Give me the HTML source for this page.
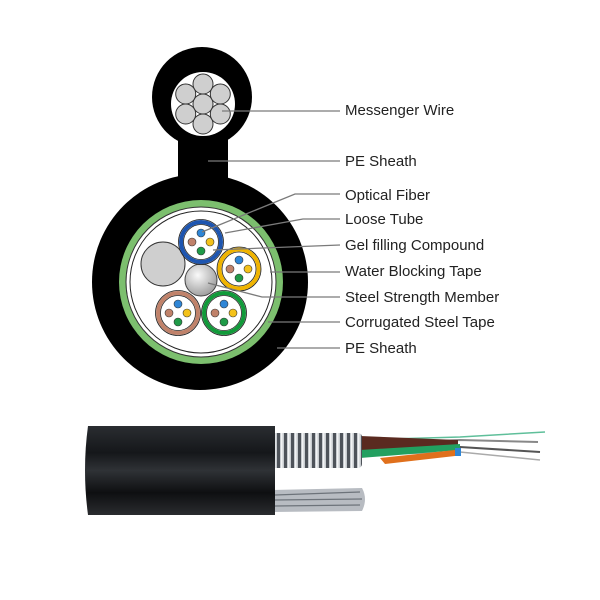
<!DOCTYPE html>
<html><head><meta charset="utf-8"><style>
html,body{margin:0;padding:0;background:#fff;}
svg{display:block}
text{font-family:"Liberation Sans",sans-serif;font-size:15px;fill:#222;}
</style></head><body>
<svg width="600" height="600" viewBox="0 0 600 600" xmlns="http://www.w3.org/2000/svg">
<defs>
<radialGradient id="steel" cx="0.4" cy="0.35" r="0.7"><stop offset="0" stop-color="#fafafa"/><stop offset="1" stop-color="#9a9a9a"/></radialGradient>
<linearGradient id="jacket" x1="0" y1="0" x2="0" y2="1">
<stop offset="0" stop-color="#2a2d31"/><stop offset="0.3" stop-color="#15171a"/><stop offset="0.5" stop-color="#2f3236"/><stop offset="0.75" stop-color="#0e0f11"/><stop offset="1" stop-color="#2a2c2f"/></linearGradient>
<pattern id="coil" width="7" height="40" patternUnits="userSpaceOnUse"><rect width="7" height="40" fill="#c8ccd0"/><rect x="4" width="3" height="40" fill="#4e535a"/><rect x="1" width="1.5" height="40" fill="#f2f3f5"/></pattern>
</defs>
<circle cx="202" cy="97" r="50" fill="#000"/>
<rect x="178" y="130" width="50" height="60" fill="#000"/>
<circle cx="203" cy="104" r="32" fill="#fff"/>
<g fill="#cfcfcf" stroke="#333" stroke-width="1">
<circle cx="203" cy="104" r="10"/>
<circle cx="203" cy="84" r="10"/>
<circle cx="203" cy="124" r="10"/>
<circle cx="185.7" cy="94" r="10"/>
<circle cx="220.3" cy="94" r="10"/>
<circle cx="185.7" cy="114" r="10"/>
<circle cx="220.3" cy="114" r="10"/>
</g>
<circle cx="200" cy="282" r="108" fill="#000"/>
<circle cx="201" cy="282" r="82" fill="#7cbf6e"/>
<circle cx="201" cy="282" r="75" fill="#fff" stroke="#333" stroke-width="1"/>
<circle cx="201" cy="282" r="71" fill="#fff" stroke="#222" stroke-width="1"/>
<circle cx="163" cy="264" r="22" fill="#cfcfcf" stroke="#333" stroke-width="1"/>
<circle cx="201" cy="280" r="16" fill="url(#steel)" stroke="#444" stroke-width="1"/>
<g stroke-width="4" fill="#fff">
<circle cx="201" cy="242" r="20" stroke="#1d55b0"/>
<circle cx="239" cy="269" r="19.5" stroke="#f0b400"/>
<circle cx="178" cy="313" r="20" stroke="#c0826a"/>
<circle cx="224" cy="313" r="20" stroke="#119a3a"/>
</g>
<g fill="none" stroke="#222" stroke-width="0.8">
<circle cx="201" cy="242" r="22.5"/><circle cx="201" cy="242" r="17.5"/>
<circle cx="239" cy="269" r="22"/><circle cx="239" cy="269" r="17"/>
<circle cx="178" cy="313" r="22.5"/><circle cx="178" cy="313" r="17.5"/>
<circle cx="224" cy="313" r="22.5"/><circle cx="224" cy="313" r="17.5"/>
</g>
<g stroke="#333" stroke-width="0.6">
<g transform="translate(201,242)"><circle cy="-9" r="4" fill="#2f86d6"/><circle cx="-9" r="4" fill="#c0826a"/><circle cx="9" r="4" fill="#f4c21a"/><circle cy="9" r="4" fill="#1f9a48"/></g>
<g transform="translate(239,269)"><circle cy="-9" r="4" fill="#2f86d6"/><circle cx="-9" r="4" fill="#c0826a"/><circle cx="9" r="4" fill="#f4c21a"/><circle cy="9" r="4" fill="#1f9a48"/></g>
<g transform="translate(178,313)"><circle cy="-9" r="4" fill="#2f86d6"/><circle cx="-9" r="4" fill="#c0826a"/><circle cx="9" r="4" fill="#f4c21a"/><circle cy="9" r="4" fill="#1f9a48"/></g>
<g transform="translate(224,313)"><circle cy="-9" r="4" fill="#2f86d6"/><circle cx="-9" r="4" fill="#c0826a"/><circle cx="9" r="4" fill="#f4c21a"/><circle cy="9" r="4" fill="#1f9a48"/></g>
</g>
<g fill="none" stroke="#7a7a7a" stroke-width="1.3">
<polyline points="222,111 340,111"/>
<polyline points="208,161 340,161"/>
<polyline points="202,232 295,194 340,194"/>
<polyline points="225,233 303,219 340,219"/>
<polyline points="213,250 340,245"/>
<polyline points="270,272 340,272"/>
<polyline points="208,283 262,297 340,297"/>
<polyline points="268,322 340,322"/>
<polyline points="277,348 340,348"/>
</g>
<g>
<text x="345" y="115">Messenger Wire</text>
<text x="345" y="166">PE Sheath</text>
<text x="345" y="200">Optical Fiber</text>
<text x="345" y="224">Loose Tube</text>
<text x="345" y="250">Gel filling Compound</text>
<text x="345" y="276">Water Blocking Tape</text>
<text x="345" y="302">Steel Strength Member</text>
<text x="345" y="327">Corrugated Steel Tape</text>
<text x="345" y="353">PE Sheath</text>
</g>
<g>
<path d="M355 440 L460 437 L545 432" stroke="#5fbf9a" stroke-width="1.5" fill="none"/>
<path d="M355 445 L460 440 L538 442" stroke="#888" stroke-width="2" fill="none"/>
<path d="M355 450 L460 447 L540 452" stroke="#555" stroke-width="2" fill="none"/>
<path d="M355 455 L460 452 L540 460" stroke="#aaa" stroke-width="1.5" fill="none"/>
<path d="M360 436 L458 440 L458 446 L360 452 Z" fill="#5a2a20"/>
<path d="M360 450 L460 444 L460 450 L360 458 Z" fill="#22a060"/>
<path d="M380 458 L455 450 L455 456 L385 464 Z" fill="#e0701c"/>
<rect x="455" y="448" width="6" height="8" fill="#2f86d6"/>
<path d="M272 490 L362 488 Q368 499 362 511 L272 512 Z" fill="#b8bcc2"/>
<path d="M275 495 L360 492 M275 500 L362 499 M275 506 L360 505" stroke="#6d737a" stroke-width="1.2"/>
<rect x="270" y="433" width="92" height="35" rx="4" fill="url(#coil)"/>
<path d="M88 426 L275 426 L275 515 L88 515 Q82 470 88 426 Z" fill="url(#jacket)"/>
</g>
</svg>
</body></html>
